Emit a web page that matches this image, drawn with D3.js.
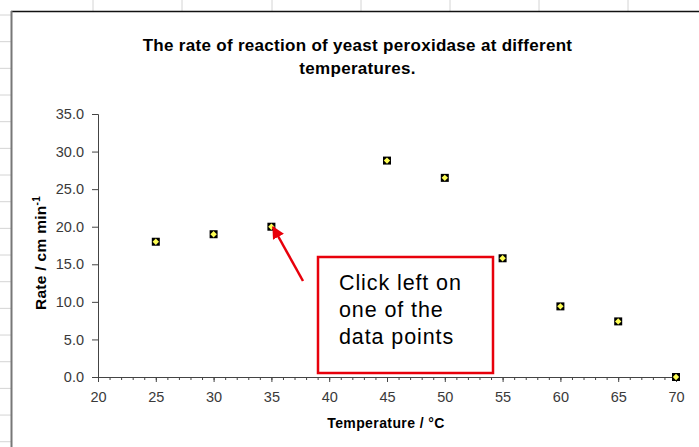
<!DOCTYPE html>
<html>
<head>
<meta charset="utf-8">
<script src="https://cdn.jsdelivr.net/npm/d3@7"></script>
<style>
  body { margin: 0; background: #fff; }
  svg { display: block; font-family: Arial, "Liberation Sans", sans-serif; }
</style>
</head>
<body>
<svg width="699" height="447"></svg>
<script>
// Data
var temps = [25, 30, 35, 45, 50, 55, 60, 65, 70]
var rates = [18.0, 19.0, 20.0, 28.8, 26.5, 15.8, 9.4, 7.4, 0.0]
var xTicks = [20, 25, 30, 35, 40, 45, 50, 55, 60, 65, 70]
var yTicks = [0, 5, 10, 15, 20, 25, 30, 35]
var titleLines = ['The rate of reaction of yeast peroxidase at different', 'temperatures.']
var noteLines = ['Click left on', 'one of the', 'data points']

var svg = d3.select('svg'),
  width = +svg.attr('width'),
  height = +svg.attr('height')

// spreadsheet cells behind the chart
var colLines = [93, 182, 272, 361, 450, 539, 628]
svg.append('g').selectAll('line').data(colLines).enter().append('line')
  .attr('x1', d => d).attr('x2', d => d).attr('y1', 0).attr('y2', 11)
  .attr('stroke', '#d4d4d4')
svg.append('g').selectAll('line').data(d3.range(15, height, 26.67)).enter().append('line')
  .attr('x1', 0).attr('x2', 11).attr('y1', d => d).attr('y2', d => d)
  .attr('stroke', '#d4d4d4')

// chart area border
svg.append('line').attr('x1', 11).attr('x2', width).attr('y1', 11.5).attr('y2', 11.5)
  .attr('stroke', '#111').attr('stroke-width', 1.5)
svg.append('line').attr('x1', 11.5).attr('x2', 11.5).attr('y1', 11).attr('y2', height)
  .attr('stroke', '#777').attr('stroke-width', 2)

// scales
var x = d3.scaleLinear().domain([20, 70]).range([98, 676])
var y = d3.scaleLinear().domain([0, 35]).range([377, 114])

// title
svg.append('text')
  .attr('text-anchor', 'middle')
  .attr('font-size', '17px')
  .attr('font-weight', 'bold')
  .attr('fill', '#000')
  .selectAll('tspan').data(titleLines).enter().append('tspan')
  .attr('x', 357.5)
  .attr('y', (d, i) => 51 + i * 23)
  .attr('letter-spacing', '0.3px')
  .text(d => d)

// y axis
var yAxis = svg.append('g')
  .attr('transform', 'translate(' + x(20) + ',0)')
  .call(d3.axisLeft(y).tickValues(yTicks).tickFormat(d3.format('.1f')).tickSize(6).tickPadding(8))
yAxis.select('.domain').attr('stroke', '#444')
yAxis.selectAll('.tick line').attr('stroke', '#444')
yAxis.selectAll('text').attr('font-size', '14.5px').attr('fill', '#3a3a3a')
  .attr('font-family', 'Arial, "Liberation Sans", sans-serif')

// x axis (minor ticks every degree)
var xMinor = svg.append('g')
  .attr('transform', 'translate(0,' + y(0) + ')')
  .call(d3.axisBottom(x).tickValues(d3.range(20, 71, 1)).tickSize(3).tickFormat(''))
xMinor.select('.domain').remove()
xMinor.selectAll('.tick line').attr('stroke', '#444')

var xAxis = svg.append('g')
  .attr('transform', 'translate(0,' + y(0) + ')')
  .call(d3.axisBottom(x).tickValues(xTicks).tickSize(5).tickSizeOuter(0).tickPadding(10))
xAxis.select('.domain').attr('stroke', '#444')
xAxis.selectAll('.tick line').attr('stroke', '#444')
xAxis.selectAll('text').attr('font-size', '14.5px').attr('fill', '#3a3a3a')
  .attr('font-family', 'Arial, "Liberation Sans", sans-serif')

// axis titles
svg.append('text')
  .attr('x', 386).attr('y', 428)
  .attr('text-anchor', 'middle')
  .attr('font-size', '14px').attr('font-weight', 'bold')
  .attr('letter-spacing', '0.4px')
  .text('Temperature / °C')

var yLab = svg.append('text')
  .attr('transform', 'translate(46,253) rotate(-90)')
  .attr('text-anchor', 'middle')
  .attr('font-size', '15.5px').attr('font-weight', 'bold')
  .attr('letter-spacing', '0.3px')
yLab.append('tspan').text('Rate / cm min')
yLab.append('tspan').attr('dy', -6).attr('font-size', '10px').text('-1')

// data points: black square with a yellow diamond
var pts = svg.append('g').selectAll('g').data(temps).enter().append('g')
  .attr('transform', (d, i) => 'translate(' + x(d) + ',' + y(rates[i]) + ')')
pts.append('rect').attr('x', -4).attr('y', -4).attr('width', 8).attr('height', 8).attr('fill', '#000')
pts.append('path').attr('d', 'M0,-3.2L3.2,0L0,3.2L-3.2,0Z').attr('fill', '#ffff55')

// callout
svg.append('rect')
  .attr('x', 318).attr('y', 257).attr('width', 175).attr('height', 116)
  .attr('fill', '#fff').attr('stroke', '#e8000b').attr('stroke-width', 2.5)
svg.append('text')
  .attr('font-size', '21.5px').attr('fill', '#000')
  .attr('letter-spacing', '0.9px')
  .selectAll('tspan').data(noteLines).enter().append('tspan')
  .attr('x', 339)
  .attr('y', (d, i) => 290 + i * 27)
  .text(d => d)

svg.append('defs').append('marker')
  .attr('id', 'head').attr('viewBox', '0 0 10 10')
  .attr('refX', 9).attr('refY', 5)
  .attr('markerWidth', 5).attr('markerHeight', 5.5)
  .attr('markerUnits', 'strokeWidth')
  .attr('orient', 'auto')
  .append('path').attr('d', 'M0,0L10,5L0,10Z').attr('fill', '#e8000b')
svg.append('line')
  .attr('x1', 303).attr('y1', 281).attr('x2', 273).attr('y2', 227)
  .attr('stroke', '#e8000b').attr('stroke-width', 2.5)
  .attr('marker-end', 'url(#head)')
</script>
</body>
</html>
